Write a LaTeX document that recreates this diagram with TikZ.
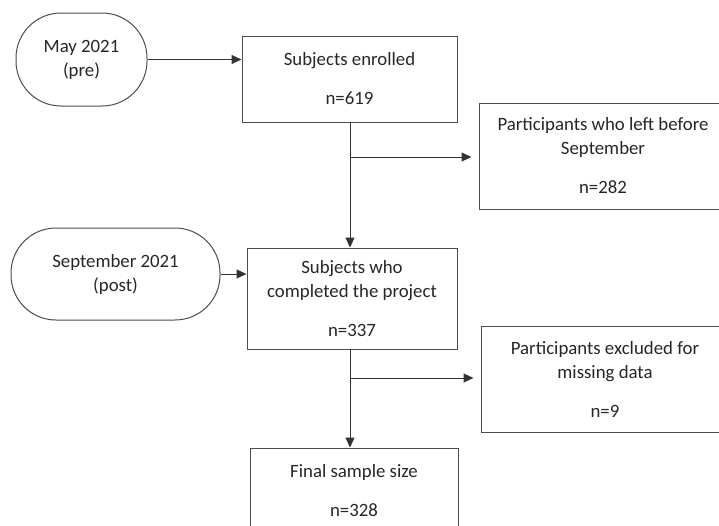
\documentclass[tikz,border=0pt]{standalone}
\usepackage{fontspec}
\setmainfont{Carlito}
\usetikzlibrary{arrows.meta}
\begin{document}
\begin{tikzpicture}[x=1pt,y=-1pt,
  lbl/.style={font=\fontsize{18.8}{24}\selectfont, text=black!85, align=center, inner sep=0pt},
  box/.style={lbl, draw=black!70, line width=1pt, rectangle},
  oval/.style={lbl, draw=black!70, line width=1pt, rectangle, rounded corners=45pt},
  arr/.style={draw=black!80, line width=1pt, -{Triangle[length=10pt,width=9pt]}},
  side/.style={arr, shorten >=7pt}]
\useasboundingbox (0,0) rectangle (719,525);
\clip (0,0) rectangle (719,525);
\node[oval, minimum width=131pt, minimum height=93pt] (may) at (81.5,59.5) {May 2021\\(pre)};
\node[oval, minimum width=209pt, minimum height=92pt] (sep) at (115.5,274) {September 2021\\(post)};
\node[box, minimum width=215pt, minimum height=86pt] (enr) at (349.5,79) {Subjects enrolled\\[15pt]n=619};
\node[box, minimum width=248pt, minimum height=106pt] (left) at (603,156) {Participants who left before\\September\\[15pt]n=282};
\node[box, minimum width=210pt, minimum height=101pt] (comp) at (352,298.5) {Subjects who\\completed the project\\[15pt]n=337};
\node[box, minimum width=248pt, minimum height=106pt] (excl) at (605,379) {Participants excluded for\\missing data\\[15pt]n=9};
\node[box, minimum width=208pt, minimum height=86pt] (fin) at (354,491) {Final sample size\\[15pt]n=328};
\coordinate (top1) at (350,122);
\coordinate (top2) at (350,349);
\coordinate (b1) at (350,157);
\coordinate (b2) at (350,378);
\draw[arr] (may.east) -- (may.east -| enr.west);
\draw[arr] (sep.east) -- (sep.east -| comp.west);
\draw[arr] (top1) -- (top1 |- comp.north);
\draw[arr] (top2) -- (top2 |- fin.north);
\draw[side] (b1) -- (b1 -| left.west);
\draw[side] (b2) -- (b2 -| excl.west);
\end{tikzpicture}
\end{document}
